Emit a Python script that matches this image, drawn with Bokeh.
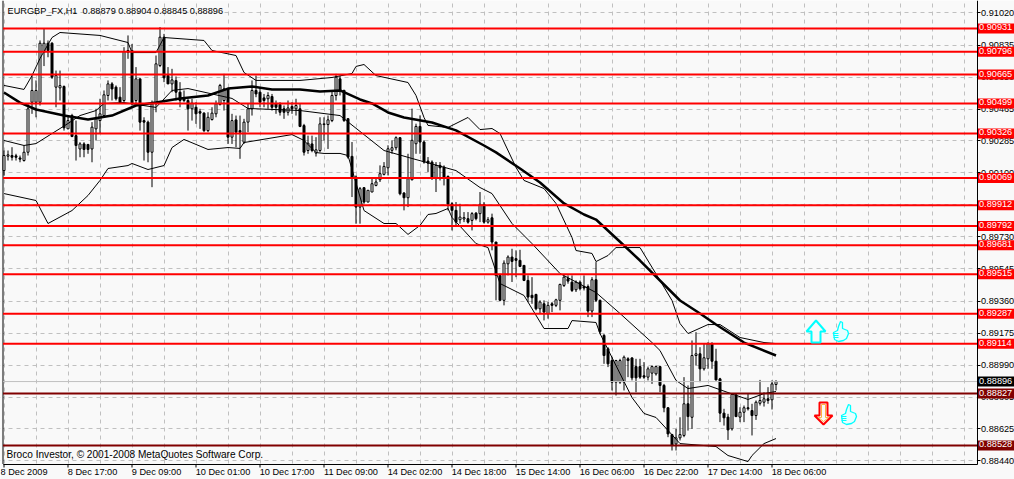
from bokeh.plotting import figure
from bokeh.models import Range1d, FixedTicker, Label
from bokeh.embed import file_html
from bokeh.resources import INLINE

TITLE = "EURGBP_FX,H1\u00a0\u00a00.88879 0.88904 0.88845 0.88896"
FOOTER = "Broco Investor, \u00a9 2001-2008 MetaQuotes Software Corp."

# OHLC (1e-5 units), one row per hourly bar
opens = [
90106,90189,90193,90191,90179,90164,90212,90501,90501,90501,90790,90842,90842,90588,90584,90592,90347,90424,90308,90231,
90260,90257,90231,90347,90395,90424,90540,90607,90588,90530,90511,90790,90800,90511,90636,90395,90386,90212,90492,90713,
90877,90655,90607,90626,90559,90526,90511,90463,90472,90447,90438,90337,90401,90434,90488,90511,90578,90299,90399,90337,
90270,90386,90463,90569,90559,90526,90521,90534,90492,90488,90463,90443,90476,90463,90463,90366,90222,90260,90207,90222,
90372,90372,90395,90540,90636,90570,90406,90188,90069,89895,90007,89924,89982,90020,90053,90084,90122,90223,90238,90296,
89976,89949,90053,90261,90361,90271,90161,90155,90059,90136,90126,90072,89914,89876,89822,89826,89828,89818,89860,89857,
89911,89808,89833,89693,89500,89356,89567,89606,89597,89587,89558,89471,89385,89390,89307,89336,89278,89336,89327,89356,
89442,89481,89461,89417,89461,89436,89436,89294,89475,89356,89153,89076,89008,88883,88883,88883,89018,89023,88973,88973,
88920,88912,88935,88931,88973,88864,88735,88580,88526,88561,88575,88758,88680,89037,89047,88960,89018,89105,89004,88902,
88704,88681,88613,88810,88681,88709,88735,88719,88690,88761,88767,88787,88781]
highs = [
90222,90222,90241,90203,90193,90251,90492,90655,90627,90858,90925,90858,90848,90684,90684,90598,90424,90434,90395,90270,
90270,90260,90386,90463,90521,90569,90627,90617,90598,90588,90819,90887,90838,90704,90636,90414,90395,90511,90771,90935,
90896,90704,90694,90650,90617,90569,90521,90521,90501,90463,90443,90443,90472,90511,90607,90665,90584,90434,90424,90424,
90405,90492,90627,90655,90588,90549,90559,90549,90511,90501,90482,90511,90501,90521,90492,90376,90308,90308,90299,90414,
90414,90424,90569,90665,90655,90570,90406,90271,90078,90011,90011,89992,90059,90059,90136,90155,90252,90281,90304,90300,
89982,90203,90464,90377,90425,90281,90184,90165,90155,90155,90136,90078,89924,89924,89914,89866,89866,89866,89866,89982,
89924,89837,89857,89693,89510,89587,89616,89654,89645,89648,89558,89500,89490,89394,89356,89356,89346,89346,89365,89452,
89500,89500,89500,89471,89471,89500,89448,89490,89577,89360,89162,89085,89027,89012,89018,89037,89027,89027,89018,89018,
88999,88973,88979,88979,88975,88873,88738,88584,88613,88680,88912,88864,89124,89172,89085,89105,89114,89114,89076,88908,
88729,88700,88815,88815,88738,88748,88815,88758,88777,88896,88825,88854,88893]
lows = [
90077,90164,90164,90164,90154,90158,90193,90434,90414,90482,90710,90761,90636,90472,90511,90337,90347,90299,90164,90183,
90183,90203,90154,90280,90318,90414,90511,90511,90511,90492,90501,90752,90482,90492,90337,90164,90154,90010,90443,90704,
90617,90607,90559,90511,90472,90501,90337,90395,90376,90347,90328,90328,90395,90414,90482,90453,90260,90260,90241,90174,
90260,90328,90424,90530,90472,90472,90463,90453,90434,90424,90405,90424,90434,90424,90357,90193,90203,90212,90187,90212,
90280,90231,90386,90511,90540,90387,90175,89953,89799,89799,89914,89924,89982,90015,90040,90078,90078,90203,90223,89963,
89876,89895,90049,90203,90203,90146,90098,90053,89982,90049,90020,89876,89760,89789,89799,89808,89799,89760,89818,89808,
89799,89799,89645,89356,89356,89327,89500,89462,89490,89548,89467,89346,89336,89298,89278,89240,89250,89288,89317,89298,
89433,89452,89404,89404,89413,89413,89259,89259,89346,89160,88989,88970,88835,88806,88873,88835,88912,88893,88825,88902,
88902,88893,88873,88921,88825,88709,88565,88488,88488,88546,88565,88603,88613,88979,88883,88950,88960,88960,88893,88652,
88632,88549,88603,88681,88652,88652,88719,88575,88665,88748,88742,88758,88725]
closes = [
90193,90197,90183,90183,90172,90212,90463,90569,90569,90842,90842,90800,90646,90655,90597,90353,90395,90303,90251,90260,
90228,90228,90357,90405,90434,90544,90607,90578,90521,90501,90794,90800,90492,90636,90386,90386,90212,90492,90723,90877,
90642,90607,90630,90559,90511,90511,90463,90495,90434,90438,90337,90414,90438,90492,90598,90578,90299,90395,90328,90328,
90386,90463,90569,90549,90501,90511,90540,90472,90472,90443,90443,90468,90463,90482,90361,90212,90264,90222,90226,90376,
90376,90399,90540,90646,90570,90396,90184,90069,89895,90001,89924,89992,90030,90040,90088,90130,90232,90238,90296,89972,
89949,90059,90281,90361,90271,90155,90149,90059,90136,90122,90069,89911,89876,89808,89837,89834,89808,89857,89828,89911,
89808,89822,89693,89500,89356,89571,89606,89581,89587,89552,89471,89375,89371,89307,89346,89288,89327,89327,89359,89448,
89490,89467,89413,89461,89423,89427,89294,89475,89356,89175,89037,88989,88883,89008,89008,89027,89008,88908,88908,88912,
88912,88960,88973,88973,88864,88735,88584,88517,88561,88580,88758,88684,89037,89047,88960,89024,89105,89004,88896,88704,
88677,88607,88812,88684,88709,88735,88729,88690,88767,88777,88787,88777,88873]
# The newest bar, printed in the chart's heading
last_bar = (0.88879, 0.88904, 0.88845, 0.88896)

# Thick moving average, read at its bends
ma_bars = [0,4,8,15,21,27,33,38,44,51,56,62,67,74,79,84,89,92,96,100,107,113,120,123,129,134,140,145,148,155,159,169,174,178,185,193]
ma_vals = [90557,90499,90459,90424,90401,90424,90482,90499,90523,90540,90580,90592,90575,90575,90563,90569,90517,90494,90442,90413,90384,90338,90251,90211,90118,90037,89916,89852,89823,89673,89586,89355,89280,89216,89112,89037]

# Thin band lines, read at their bends
up_bars = [0,5,7,9,12,14,24,31,32,38,40,50,52,58,60,63,74,82,87,88,90,93,101,103,105,106,111,116,119,122,124,128,130,135,138,142,143,147,148,151,153,159,164,167,169,171,176,179,184,190,193]
up_vals = [90598,90575,90655,90754,90875,90904,90887,90846,90788,90788,90875,90858,90800,90771,90673,90627,90627,90644,90667,90708,90719,90655,90615,90540,90413,90367,90355,90413,90343,90349,90320,90124,90049,90002,89916,89719,89644,89627,89580,89615,89661,89661,89471,89355,89222,89164,89216,89216,89141,89112,89106]
mid_bars = [0,5,8,16,19,23,25,30,38,42,46,57,61,74,84,95,102,113,119,122,127,132,139,148,154,162,164,168,171,176,181,186,190,193]
mid_vals = [90280,90251,90262,90378,90424,90453,90494,90499,90471,90569,90580,90523,90465,90453,90424,90222,90176,90106,90008,89973,89800,89684,89511,89401,89280,89112,89066,88893,88846,88864,88823,88783,88817,88829]
lo_bars = [0,8,11,17,21,24,26,31,32,36,40,42,45,51,56,59,60,72,75,78,80,84,86,90,95,98,101,104,106,108,111,112,118,121,124,130,135,141,142,148,149,157,160,163,166,169,178,181,186,187,190,193]
lo_vals = [89973,89933,89800,89875,89962,90049,90118,90135,90147,90112,90135,90239,90286,90228,90239,90234,90268,90314,90280,90210,90205,90205,90193,89875,89800,89800,89737,89789,89852,89858,89887,89835,89684,89661,89453,89384,89193,89193,89239,89228,89164,88794,88702,88679,88604,88528,88511,88459,88424,88459,88528,88557]

# Horizontal levels
red_levels = [0.90931,0.90796,0.90665,0.90499,0.90326,0.90069,0.89912,0.89792,0.89681,0.89515,0.89287,0.89114]
dark_levels = [0.88827,0.88528]
last_price = 0.88896

# Axis ticks
y_ticks = [0.91020,0.90835,0.90650,0.90465,0.90285,0.90100,0.89915,0.89730,0.89545,0.89360,0.89175,0.88990,0.88805,0.88625,0.88440]
x_tick_bars = [0,16,32,48,64,80,96,112,128,144,160,176,192]
x_tick_labels = ["8 Dec 2009","8 Dec 17:00","9 Dec 09:00","10 Dec 01:00","10 Dec 17:00","11 Dec 09:00","14 Dec 02:00","14 Dec 18:00","15 Dec 14:00","16 Dec 06:00","16 Dec 22:00","17 Dec 14:00","18 Dec 06:00"]

FONT = "Liberation Sans"
BG = "#f9f9f9"
W, H = 1014, 479
PRICE_TOP, PRICE_STEP = 0.91092, 0.00005763

def cal(v):
    # calibrate a reading against the labelled levels
    return PRICE_TOP - (0.91089 - v / 1e5) * (PRICE_STEP / 0.0000578)
def px_x(px):
    return (px - 3.5) / 4.0
def px_y(py):
    return PRICE_TOP - py * PRICE_STEP

# The frame fills the page; the axes sit at fixed places inside it
p = figure(width=W, height=H, output_backend="svg", toolbar_location=None,
           x_range=Range1d(px_x(0), px_x(W)), y_range=Range1d(px_y(H), px_y(0)),
           y_axis_location="right", min_border=0,
           background_fill_color=BG, border_fill_color=BG, outline_line_color=None)

LEFT, RIGHT, BOTTOM = px_x(2.5), px_x(976.5), px_y(463.5)

# grid
p.xgrid.ticker = FixedTicker(ticks=list(range(0, 244, 8)))
p.ygrid.ticker = FixedTicker(ticks=y_ticks)
for g in (p.xgrid, p.ygrid):
    g.grid_line_color = "#c0c0c0"
    g.grid_line_dash = "4 4"
    g.grid_line_width = 1
# plain margins outside the chart area
p.quad(left=[px_x(0), RIGHT, px_x(0)], right=[LEFT, px_x(W), px_x(W)],
       bottom=[px_y(H), px_y(H), px_y(H)], top=[px_y(0), px_y(0), BOTTOM],
       fill_color=BG, line_color=None)

# axes
label_px = {10: 39.5, 11: 50.0, 12: 55.0}
label_ticks = [b + (label_px[len(t)] / 2 - 0.5) / 4 for b, t in zip(x_tick_bars, x_tick_labels)]
xax = p.xaxis[0]
yax = p.yaxis[0]
xax.fixed_location = BOTTOM
yax.fixed_location = RIGHT
xax.bounds = (LEFT, RIGHT)
yax.bounds = (BOTTOM, px_y(0))
xax.ticker = FixedTicker(ticks=label_ticks)
xax.major_label_overrides = dict(zip(label_ticks, x_tick_labels))
xax.major_tick_line_color = None
xax.major_tick_out = 0
xax.major_tick_in = 0
xax.major_label_standoff = 3
yax.ticker = FixedTicker(ticks=y_ticks)
yax.major_label_overrides = {t: f"{t:.5f}" for t in y_ticks}
yax.major_tick_line_color = "black"
yax.major_tick_out = 3
yax.major_tick_in = 0
yax.major_label_standoff = 1
for ax in (xax, yax):
    ax.axis_line_color = "black"
    ax.minor_tick_line_color = None
    ax.major_label_text_font = FONT
    ax.major_label_text_font_size = "9.2px"
    ax.major_label_text_color = "black"

p.segment(x_tick_bars, [BOTTOM] * 13, x_tick_bars, [px_y(467)] * 13, color="black", line_width=1)
p.segment([LEFT], [BOTTOM], [LEFT], [px_y(0)], color="black", line_width=1)

o = [cal(v) for v in opens] + [last_bar[0]]
h = [cal(v) for v in highs] + [last_bar[1]]
l = [cal(v) for v in lows] + [last_bar[2]]
c = [cal(v) for v in closes] + [last_bar[3]]
xs = list(range(len(o)))

p.segment(xs, h, xs, l, color="black", line_width=1)
up_x = [i for i in xs if c[i] >= o[i]]
dn_x = [i for i in xs if c[i] < o[i]]
p.vbar(x=up_x, width=0.5, top=[c[i] for i in up_x], bottom=[o[i] for i in up_x],
       fill_color="white", line_color="black", line_width=1)
p.vbar(x=dn_x, width=0.5, top=[o[i] for i in dn_x], bottom=[c[i] for i in dn_x],
       fill_color="black", line_color="black", line_width=1)

for bars, vals in ((up_bars, up_vals), (mid_bars, mid_vals), (lo_bars, lo_vals)):
    p.line(bars, [cal(v) for v in vals], color="black", line_width=1)
p.line(ma_bars, [cal(v) for v in ma_vals], color="black", line_width=2.5)

# horizontal levels, stopping at the price axis
def level_lines(levels, color, width):
    p.segment([LEFT] * len(levels), levels, [RIGHT] * len(levels), levels, color=color, line_width=width)
level_lines([last_price], "#c0c0c0", 1)
level_lines(red_levels, "#ff0000", 2)
level_lines(dark_levels, "#800000", 2)

def price_tag(y, bg):
    p.add_layout(Label(x=px_x(977.5), y=y, text=f"{y:.5f}", text_color="white",
                       text_font=FONT, text_font_size="9.2px", text_baseline="middle",
                       text_align="left", background_fill_color=bg, padding=(1, 3, 1, 3)))

for y in red_levels:
    price_tag(y, "#ff0000")
for y in dark_levels:
    price_tag(y, "#800000")
price_tag(last_price, "#000000")

# title and footer
p.add_layout(Label(x=px_x(7), y=px_y(10), text=TITLE, text_font=FONT,
                   text_font_size="9.2px", text_color="black", text_baseline="middle"))
p.add_layout(Label(x=px_x(6), y=px_y(454), text=FOOTER, text_font=FONT,
                   text_font_size="10.1px", text_color="black", text_baseline="middle"))

# arrows and thumbs
def deco(points, **kw):
    p.patch([px_x(a) for a, _ in points], [px_y(b) for _, b in points], **kw)

def thumb(dx, dy):
    out = [(833,332),(837,330),(838,326),(840,321),(842,322),(842,328),(847,330),(848,333),
           (846,338),(843,340),(838,341),(834,339)]
    deco([(a + dx, b + dy) for a, b in out], fill_color="#e8ffff", line_color="#00ffff", line_width=1.3)
    for yy in (333, 335, 337):
        p.line([px_x(833 + dx), px_x(838 + dx)], [px_y(yy + dy), px_y(yy + dy)], color="#00ffff", line_width=1)

deco([(815.5,320),(825,331),(820,331),(820,342),(811,342),(811,331),(806,331)],
     fill_color=BG, line_color="#00ffff", line_width=2)
deco([(819,402),(827,402),(827,415),(832,415),(823,424),(814,415),(819,415)],
     fill_color=BG, line_color="#ff0000", line_width=2)
deco([(821,404),(825,404),(825,417),(828,417),(823,421),(818,417),(821,417)],
     fill_color=BG, line_color="#ffb040", line_width=1)
thumb(0, 0)
thumb(8, 83)

open("out.html", "w").write(file_html(p, INLINE))
